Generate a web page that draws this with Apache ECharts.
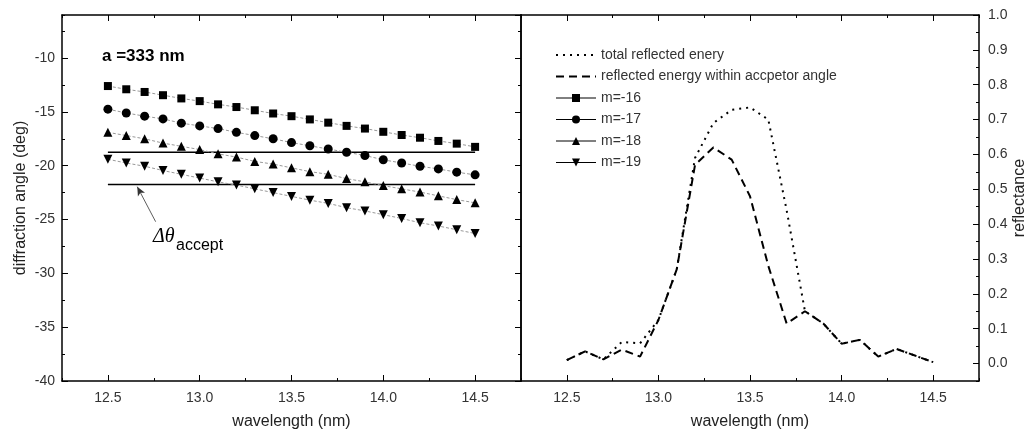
<!DOCTYPE html>
<html>
<head>
<meta charset="utf-8">
<script src="https://cdn.jsdelivr.net/npm/echarts@6/dist/echarts.min.js"></script>
<style>
  html, body { margin: 0; padding: 0; background: #fff; }
  #chart { width: 1032px; height: 440px; }
</style>
</head>
<body>
<div id="chart"></div>
<script>
// wavelength samples (nm)
var wavelength = [12.5, 12.6, 12.7, 12.8, 12.9, 13.0, 13.1, 13.2, 13.3, 13.4, 13.5,
  13.6, 13.7, 13.8, 13.9, 14.0, 14.1, 14.2, 14.3, 14.4, 14.5];

// diffraction angle (deg) per order
var m16 = [-12.6, -12.9, -13.15, -13.45, -13.75, -14.0, -14.3, -14.55, -14.85, -15.15, -15.4,
  -15.7, -16.0, -16.3, -16.55, -16.85, -17.15, -17.4, -17.7, -17.95, -18.25];
var m17 = [-14.75, -15.1, -15.4, -15.65, -16.05, -16.3, -16.55, -16.9, -17.2, -17.5, -17.85,
  -18.15, -18.45, -18.75, -19.05, -19.45, -19.75, -20.05, -20.3, -20.6, -20.85];
var m18 = [-16.9, -17.2, -17.5, -17.9, -18.2, -18.5, -18.9, -19.2, -19.6, -19.85, -20.2,
  -20.55, -20.8, -21.2, -21.5, -21.85, -22.15, -22.45, -22.8, -23.15, -23.45];
var m19 = [-19.4, -19.75, -20.05, -20.45, -20.8, -21.15, -21.5, -21.8, -22.15, -22.5, -22.85,
  -23.2, -23.5, -23.9, -24.2, -24.55, -24.9, -25.3, -25.6, -25.95, -26.3];

// acceptance angle limits
var acceptEdges = [-18.75, -21.75];
var acceptSpan = [12.5, 14.5];
// arrow pointing at the lower limit: [tail, tip]
var arrowEnds = [[12.76, -25.2], [12.66, -21.95]];

// reflectance
var totalReflected = [0.01, 0.035, 0.012, 0.062, 0.058, 0.125, 0.27, 0.59, 0.69, 0.728, 0.735,
  0.70, 0.44, 0.15, 0.115, 0.057, 0.068, 0.02, 0.042, 0.023, 0.004];
var withinAccept = [0.01, 0.035, 0.012, 0.04, 0.02, 0.125, 0.27, 0.57, 0.62, 0.585, 0.48,
  0.28, 0.115, 0.15, 0.115, 0.057, 0.068, 0.02, 0.042, 0.023, 0.004];

// tick labels
var xTicks = [12.5, 13.0, 13.5, 14.0, 14.5];
var reflTicks = [0, 0.1, 0.2, 0.3, 0.4, 0.5, 0.6, 0.7, 0.8, 0.9, 1.0];

var FONT = 'Liberation Sans, Arial, sans-serif';

function pairs(xs, ys) {
  return xs.map(function (x, i) { return [x, ys[i]]; });
}

// one side of a frame: major ticks (with line) or minor ticks only
function xSide(grid, pos, major) {
  var ax = {
    type: 'value', gridIndex: grid, position: pos, min: 12.25, max: 14.75,
    splitLine: { show: false },
    axisLine: { show: major, onZero: false, lineStyle: { color: '#000', width: 1.5 } },
    axisTick: { show: true, inside: true, length: major ? 6 : 3, lineStyle: { color: '#000', width: 1 } },
    axisLabel: { show: false }
  };
  if (major) {
    ax.axisTick.customValues = xTicks;
    ax.axisLabel.customValues = xTicks;
  } else {
    ax.interval = 0.25;
  }
  return ax;
}

function ySide(grid, pos, major, min, max, interval, custom) {
  var ax = {
    type: 'value', gridIndex: grid, position: pos, min: min, max: max,
    splitLine: { show: false },
    axisLine: { show: major, onZero: false, lineStyle: { color: '#000', width: 1.5 } },
    axisTick: { show: true, inside: true, length: major ? 6 : 3, lineStyle: { color: '#000', width: 1 } },
    axisLabel: { show: false }
  };
  if (custom) {
    ax.axisTick.customValues = custom;
    ax.axisLabel.customValues = custom;
  } else {
    ax.interval = interval;
  }
  return ax;
}

var xAxes = [];
[0, 1].forEach(function (g) {
  var bottom = xSide(g, 'bottom', true);
  bottom.axisLabel = {
    show: true, customValues: xTicks, margin: 10,
    color: '#333', fontSize: 14, fontFamily: FONT,
    formatter: function (v) { return v.toFixed(1); }
  };
  bottom.name = 'wavelength (nm)';
  bottom.nameLocation = 'middle';
  bottom.nameGap = 33;
  bottom.nameTextStyle = { color: '#222', fontSize: 16, fontFamily: FONT };
  xAxes.push(bottom, xSide(g, 'bottom', false), xSide(g, 'top', true), xSide(g, 'top', false));
});

// left panel: y axes 0..3, right panel: 4..6
var yLeft = ySide(0, 'left', true, -40, -6, 5);
yLeft.axisLabel = { show: true, showMaxLabel: false, margin: 7, color: '#333', fontSize: 14, fontFamily: FONT };
yLeft.name = 'diffraction angle (deg)';
yLeft.nameLocation = 'middle';
yLeft.nameGap = 33;
yLeft.nameTextStyle = { color: '#222', fontSize: 16, fontFamily: FONT };

var yRefl = ySide(1, 'right', true, -0.05, 1.0, null, reflTicks);
yRefl.axisLabel = {
  show: true, customValues: reflTicks, margin: 9, color: '#333', fontSize: 14, fontFamily: FONT,
  formatter: function (v) { return v.toFixed(1); }
};
yRefl.name = 'reflectance';
yRefl.nameLocation = 'middle';
yRefl.nameGap = 27;
yRefl.nameTextStyle = { color: '#222', fontSize: 16, fontFamily: FONT };

var yAxes = [
  yLeft,
  ySide(0, 'left', false, -40, -6, 2.5),
  ySide(0, 'right', true, -40, -6, 5),
  ySide(0, 'right', false, -40, -6, 2.5),
  yRefl,
  ySide(1, 'right', false, -0.05, 1.0, 0.05),
  ySide(1, 'left', true, -0.05, 1.0, 0.05)
];
yAxes[6].axisTick.show = false;

function orderSeries(name, ys, symbol, size, rotate) {
  return {
    name: name, type: 'line', xAxisIndex: 0, yAxisIndex: 0,
    data: pairs(wavelength, ys),
    symbol: symbol, symbolSize: size, symbolRotate: rotate || 0,
    itemStyle: { color: '#000' },
    lineStyle: { color: '#999', width: 1, type: [3, 2] },
    z: 3
  };
}

function limitSeries(y, withArrow) {
  var s = {
    type: 'line', xAxisIndex: 0, yAxisIndex: 0, symbol: 'none',
    data: pairs(acceptSpan, [y, y]),
    lineStyle: { color: '#000', width: 1.5 }, z: 2
  };
  if (withArrow) {
    s.markLine = {
      silent: true, symbol: ['none', 'arrow'], symbolSize: [6, 9],
      label: { show: false },
      lineStyle: { color: '#333', width: 0.8, type: 'solid' },
      data: [[{ coord: arrowEnds[0] }, { coord: arrowEnds[1] }]]
    };
  }
  return s;
}

var series = [
  orderSeries('m=-16', m16, 'rect', 8),
  orderSeries('m=-17', m17, 'circle', 9),
  orderSeries('m=-18', m18, 'triangle', 9),
  orderSeries('m=-19', m19, 'triangle', 9, 180),
  limitSeries(acceptEdges[0], false),
  limitSeries(acceptEdges[1], true),
  {
    name: 'total reflected enery', type: 'line', xAxisIndex: 4, yAxisIndex: 4,
    data: pairs(wavelength, totalReflected), symbol: 'none',
    lineStyle: { color: '#000', width: 2, type: [2, 5] }
  },
  {
    name: 'reflected energy within accpetor angle', type: 'line', xAxisIndex: 4, yAxisIndex: 4,
    data: pairs(wavelength, withinAccept), symbol: 'none',
    lineStyle: { color: '#000', width: 2, type: [8, 5] }
  }
];

var solidLegendLine = { color: '#000', width: 1, type: 'solid' };

var chart = echarts.init(document.getElementById('chart'));
chart.setOption({
  animation: false,
  backgroundColor: '#fff',
  grid: [
    { left: 62, top: 15, width: 459, height: 366, outerBoundsMode: 'none' },
    { left: 521, top: 15, width: 458, height: 366, outerBoundsMode: 'none' }
  ],
  xAxis: xAxes,
  yAxis: yAxes,
  legend: {
    orient: 'vertical', left: 555, top: 48, padding: 0,
    itemWidth: 40, itemHeight: 10, itemGap: 7.5,
    selectedMode: false,
    textStyle: { color: '#333', fontSize: 14, fontFamily: FONT },
    data: [
      { name: 'total reflected enery', itemStyle: { opacity: 0 } },
      { name: 'reflected energy within accpetor angle', itemStyle: { opacity: 0 } },
      { name: 'm=-16', lineStyle: solidLegendLine },
      { name: 'm=-17', lineStyle: solidLegendLine },
      { name: 'm=-18', lineStyle: solidLegendLine },
      { name: 'm=-19', lineStyle: solidLegendLine }
    ]
  },
  graphic: [
    {
      type: 'text', left: 102, top: 48,
      style: { text: 'a =333 nm', fill: '#000', font: 'bold 17px ' + FONT }
    },
    {
      type: 'text', left: 153, top: 227,
      style: { text: 'Δθ', fill: '#000', font: 'italic 20px Liberation Serif, serif' }
    },
    {
      type: 'text', left: 176, top: 238,
      style: { text: 'accept', fill: '#000', font: '16px ' + FONT }
    }
  ],
  series: series
});
</script>
</body>
</html>
